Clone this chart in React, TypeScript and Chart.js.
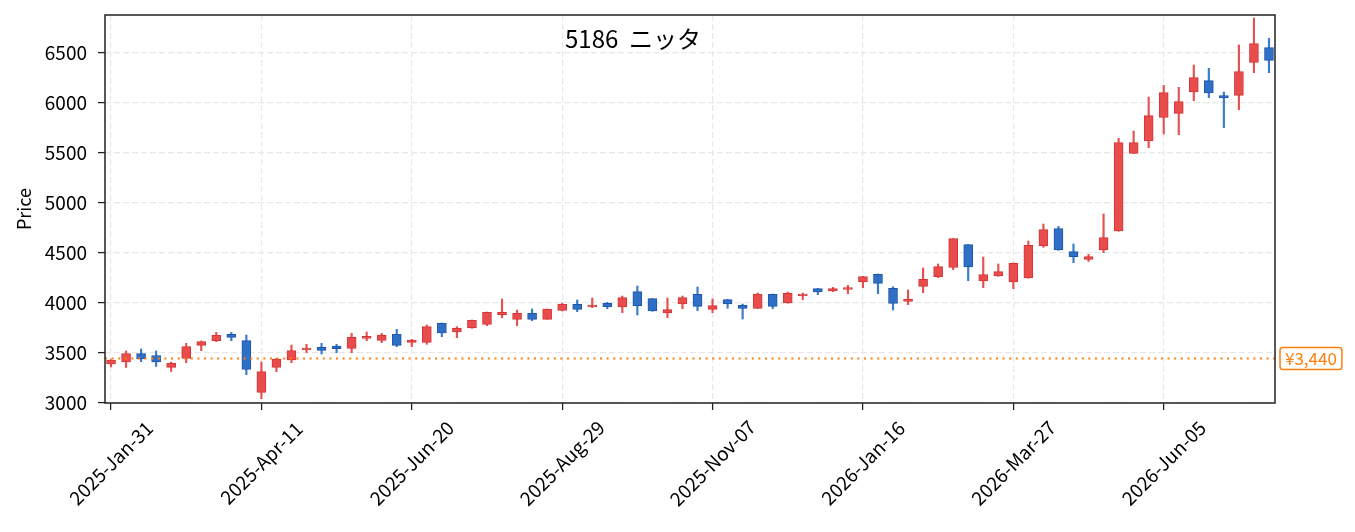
import React, { useEffect, useRef } from 'react'
import { Chart, registerables } from 'chart.js'

Chart.register(...registerables)

// weekly candles, index 0 = 2025-Jan-31
const opens = [
    3385, 3405, 3488, 3470, 3352, 3442, 3572, 3618, 3682, 3618,
    3102, 3352, 3425, 3528, 3552, 3565, 3542, 3642, 3622, 3682,
    3602, 3602, 3792, 3705, 3745, 3782, 3875, 3832, 3892, 3832,
    3922, 3982, 3958, 3992, 3955, 4108, 4038, 3895, 3985, 4082,
    3932, 4028, 3972, 3942, 4082, 3995, 4068, 4138, 4115, 4132,
    4205, 4282, 4142, 4012, 4162, 4258, 4352, 4578, 4215, 4265,
    4205, 4245, 4565, 4738, 4508, 4432, 4525, 4715, 5492, 5615,
    5852, 5892, 6105, 6218, 6068, 6072, 6402, 6548
]
const highs = [
    3430, 3515, 3535, 3515, 3405, 3592, 3615, 3702, 3700, 3675,
    3405, 3442, 3575, 3582, 3592, 3582, 3692, 3705, 3692, 3732,
    3632, 3775, 3795, 3758, 3825, 3905, 4035, 3925, 3935, 3935,
    3995, 4025, 4045, 4002, 4065, 4165, 4040, 4045, 4065, 4155,
    4035, 4032, 3985, 4095, 4085, 4105, 4095, 4140, 4152, 4172,
    4262, 4285, 4158, 4125, 4345, 4385, 4640, 4580, 4455, 4385,
    4395, 4615, 4785, 4762, 4585, 4482, 4885, 5642, 5715, 6055,
    6172, 6152, 6375, 6342, 6105, 6575, 6845, 6642
]
const lows = [
    3355, 3350, 3408, 3360, 3310, 3398, 3518, 3608, 3618, 3278,
    3038, 3308, 3398, 3498, 3485, 3498, 3498, 3618, 3598, 3558,
    3558, 3582, 3658, 3648, 3742, 3768, 3848, 3768, 3818, 3832,
    3915, 3908, 3948, 3938, 3898, 3875, 3912, 3848, 3938, 3918,
    3898, 3942, 3835, 3940, 3938, 3992, 4028, 4078, 4108, 4088,
    4148, 4088, 3925, 3978, 4098, 4248, 4328, 4218, 4148, 4262,
    4138, 4242, 4552, 4522, 4398, 4410, 4498, 4712, 5488, 5548,
    5685, 5678, 6018, 6048, 5748, 5928, 6298, 6298
]
const closes = [
    3425, 3490, 3435, 3405, 3392, 3558, 3608, 3672, 3652, 3332,
    3308, 3432, 3518, 3545, 3522, 3538, 3652, 3662, 3672, 3572,
    3625, 3758, 3695, 3742, 3822, 3902, 3902, 3892, 3832, 3935,
    3982, 3932, 3975, 3958, 4048, 3965, 3915, 3928, 4048, 3962,
    3968, 3985, 3942, 4082, 3962, 4092, 4085, 4105, 4138, 4148,
    4258, 4192, 3992, 4035, 4232, 4358, 4638, 4355, 4278, 4308,
    4392, 4572, 4728, 4525, 4458, 4458, 4648, 5598, 5598, 5868,
    6098, 6008, 6248, 6095, 6045, 6308, 6588, 6422
]

const tickWeeks = [0, 10, 20, 30, 40, 50, 60, 70]
const tickLabels = [
    '2025-Jan-31', '2025-Apr-11', '2025-Jun-20', '2025-Aug-29',
    '2025-Nov-07', '2026-Jan-16', '2026-Mar-27', '2026-Jun-05'
]
const yTicks = [3000, 3500, 4000, 4500, 5000, 5500, 6000, 6500]
const refPrice = 3440
const chartTitle = '5186  ニッタ'

const FONT = "'Noto Sans CJK JP', 'Noto Sans', sans-serif"
const UP_FILL = '#e84c4c'
const UP_EDGE = '#d43535'
const DOWN_FILL = '#2f6fc6'
const DOWN_EDGE = '#1d55a8'
const UP_WICK = '#e55252'
const DOWN_WICK = '#3a7bcc'
const REF_COLOR = '#ff7f0e'

const isUp = (i: number) => closes[i] >= opens[i]

const overlayPlugin = {
    id: 'overlay',
    afterDatasetsDraw(chart: any) {
        const { ctx, chartArea, scales } = chart
        const y = scales.y.getPixelForValue(refPrice)
        ctx.save()
        ctx.strokeStyle = REF_COLOR
        ctx.lineWidth = 2
        ctx.setLineDash([2, 4.6])
        ctx.beginPath()
        ctx.moveTo(chartArea.left, y)
        ctx.lineTo(chartArea.right, y)
        ctx.stroke()
        ctx.restore()
    },
    afterDraw(chart: any) {
        const { ctx, chartArea, scales } = chart
        ctx.save()
        // frame
        ctx.strokeStyle = '#222'
        ctx.lineWidth = 1.5
        ctx.strokeRect(chartArea.left, chartArea.top, chartArea.right - chartArea.left, chartArea.bottom - chartArea.top)

        // title
        ctx.fillStyle = '#000'
        ctx.font = `24px ${FONT}`
        ctx.textAlign = 'left'
        ctx.textBaseline = 'alphabetic'
        ctx.fillText(chartTitle, chartArea.left + 460, chartArea.top + 33)

        // rotated x labels, centred under the ticks
        ctx.font = `19px ${FONT}`
        ctx.textAlign = 'center'
        ctx.textBaseline = 'middle'
        ctx.fillStyle = '#000'
        tickWeeks.forEach((w, k) => {
            const x = scales.x.getPixelForValue(w)
            ctx.save()
            ctx.translate(x, chartArea.bottom + 60)
            ctx.rotate(-Math.PI / 4)
            ctx.fillText(tickLabels[k], 0, 0)
            ctx.restore()
        })

        // price tag
        const y = scales.y.getPixelForValue(refPrice)
        const text = '¥' + refPrice.toLocaleString('en-US')
        ctx.font = `17px ${FONT}`
        const w = ctx.measureText(text).width + 10
        const bx = chartArea.right + 5
        const by = y - 11
        ctx.fillStyle = '#fff'
        ctx.strokeStyle = REF_COLOR
        ctx.lineWidth = 1.5
        ctx.beginPath()
        ctx.roundRect(bx, by, w, 22, 3)
        ctx.fill()
        ctx.stroke()
        ctx.fillStyle = REF_COLOR
        ctx.textAlign = 'left'
        ctx.textBaseline = 'middle'
        ctx.fillText(text, bx + 5, y + 0.5)
        ctx.restore()
    }
}

const CandleChart: React.FC = () => {
    const canvasRef = useRef<HTMLCanvasElement>(null)
    const chartRef = useRef<Chart | null>(null)

    useEffect(() => {
        if (!canvasRef.current) return
        const ctx = canvasRef.current.getContext('2d')
        if (!ctx) return
        if (chartRef.current) chartRef.current.destroy()

        Chart.defaults.font.family = FONT

        const bodies = opens.map((o, i) => ({ x: i, y: [o, closes[i]] }))
        const wicks = lows.map((l, i) => ({ x: i, y: [l, highs[i]] }))

        const grid = {
            color: '#e8e8e8',
            lineWidth: 1.2,
            offset: false,
            drawTicks: true,
            tickLength: 7,
            tickColor: '#222',
            tickWidth: 1.3,
            tickBorderDash: [10, 0]
        }

        chartRef.current = new Chart(ctx, {
            type: 'bar',
            data: {
                datasets: [
                    {
                        label: 'body',
                        data: bodies as any,
                        backgroundColor: opens.map((_, i) => (isUp(i) ? UP_FILL : DOWN_FILL)),
                        borderColor: opens.map((_, i) => (isUp(i) ? UP_EDGE : DOWN_EDGE)),
                        borderWidth: 1,
                        borderSkipped: false,
                        barThickness: 9,
                        grouped: false,
                        order: 0
                    },
                    {
                        label: 'wick',
                        data: wicks as any,
                        backgroundColor: opens.map((_, i) => (isUp(i) ? UP_WICK : DOWN_WICK)),
                        borderWidth: 0,
                        barThickness: 1.5,
                        grouped: false,
                        order: 1
                    }
                ]
            },
            options: {
                animation: false,
                responsive: true,
                maintainAspectRatio: false,
                layout: { padding: { top: 15, right: 80, left: 0, bottom: 0 } },
                plugins: {
                    legend: { display: false },
                    tooltip: { enabled: false }
                },
                scales: {
                    x: {
                        type: 'linear',
                        offset: false,
                        min: -0.4,
                        max: 77.4,
                        afterBuildTicks: (scale: any) => {
                            scale.ticks = tickWeeks.map(v => ({ value: v }))
                        },
                        afterFit: (scale: any) => {
                            scale.height = 129
                            scale.paddingLeft = 0
                            scale.paddingRight = 0
                        },
                        ticks: { display: false },
                        grid,
                        border: { display: false, dash: [6, 3] }
                    },
                    y: {
                        min: 2995,
                        max: 6875,
                        afterBuildTicks: (scale: any) => {
                            scale.ticks = yTicks.map(v => ({ value: v }))
                        },
                        afterFit: (scale: any) => {
                            scale.width = 105
                            scale.paddingTop = 0
                            scale.paddingBottom = 0
                        },
                        ticks: {
                            color: '#000',
                            font: { size: 19 },
                            padding: 11,
                            callback: (v: any) => String(v)
                        },
                        title: {
                            display: true,
                            text: 'Price',
                            color: '#000',
                            font: { size: 18 },
                            padding: { top: 13, bottom: 0 }
                        },
                        grid,
                        border: { display: false, dash: [6, 3] }
                    }
                }
            },
            plugins: [overlayPlugin]
        })

        return () => {
            if (chartRef.current) {
                chartRef.current.destroy()
                chartRef.current = null
            }
        }
    }, [])

    return <canvas ref={canvasRef}></canvas>
}

export default function App() {
    return (
        <div style={{ position: 'absolute', left: 0, top: 0, width: 1355, height: 532 }}>
            <CandleChart />
        </div>
    )
}
